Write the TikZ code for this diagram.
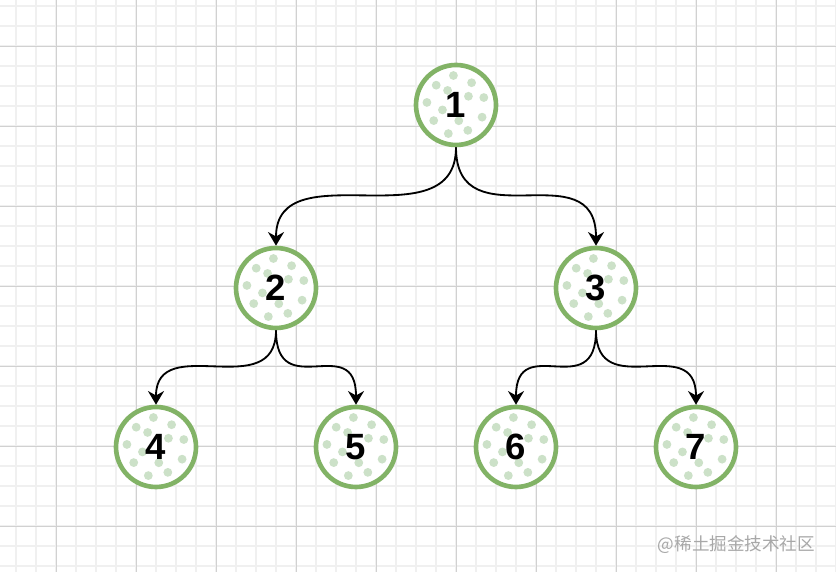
\documentclass[tikz,border=0pt]{standalone}
\usepackage{fontspec}
\setsansfont{Liberation Sans}
\newfontfamily\cjk{Noto Sans CJK SC}
\usepackage{tikz}
\usetikzlibrary{arrows.meta,positioning}
\definecolor{leafgreen}{RGB}{130,179,102}
\definecolor{blobgreen}{RGB}{204,225,200}
\definecolor{minorgray}{gray}{0.94}
\definecolor{majorgray}{gray}{0.82}
\definecolor{markgray}{gray}{0.66}

\begin{document}
\begin{tikzpicture}[
  node distance=4.575cm and 4.5cm, on grid,
  vertex/.style={circle, draw=leafgreen, line width=3.3pt, fill=white, minimum size=2cm, inner sep=0pt,
    font=\sffamily\bfseries\fontsize{26}{26}\selectfont,
    path picture={\foreach \a/\r in {15/0.72,55/0.68,95/0.74,135/0.7,175/0.73,215/0.68,255/0.74,295/0.7,335/0.72,35/0.38,120/0.42,200/0.36,280/0.4}
      \fill[blobgreen] ([shift={(\a:\r)}]path picture bounding box.center) circle (0.11);}},
  arc/.style={-{Stealth[length=3.4mm,width=4mm,inset=1.1mm]}, line width=1.3pt},
  minor/.style={line width=1pt, color=minorgray},
  major/.style={line width=0.6pt, color=majorgray},
]
  \useasboundingbox (0,0) rectangle (20.9,14.3);
  \fill[white] (0,0) rectangle (20.9,14.3);
  \foreach \x in {0.4,0.9,...,20.9} \draw[minor] (\x,0) -- (\x,14.3);
  \foreach \y in {0.15,0.65,...,14.2} \draw[minor] (0,\y) -- (20.9,\y);
  \foreach \x in {1.4,3.4,...,19.4} \draw[major] (\x,0) -- (\x,14.3);
  \foreach \y in {1.15,3.15,...,13.2} \draw[major] (0,\y) -- (20.9,\y);

  \node[vertex] (n1) at (11.4,11.675) {1};
  \node[vertex, below left=of n1] (n2) {2};
  \node[vertex, below right=4.575cm and 3.5cm of n1] (n3) {3};
  \node[vertex, below left=3.975cm and 3cm of n2] (n4) {4};
  \node[vertex, below right=3.975cm and 2cm of n2] (n5) {5};
  \node[vertex, below left=3.975cm and 2cm of n3] (n6) {6};
  \node[vertex, below right=3.975cm and 2.5cm of n3] (n7) {7};

  \foreach \a/\b/\h in {n1/n2/2.4, n1/n3/2.4, n2/n4/1.85, n2/n5/1.85, n3/n6/1.85, n3/n7/1.85}
    \draw[arc] (\a.south) .. controls +(0,-\h) and +(0,\h) .. (\b.north);

  \node[anchor=east, text=markgray, font=\cjk\fontsize{12.5}{13}\selectfont] (watermark) at (20.5,0.675) {@稀土掘金技术社区};
\end{tikzpicture}
\end{document}
